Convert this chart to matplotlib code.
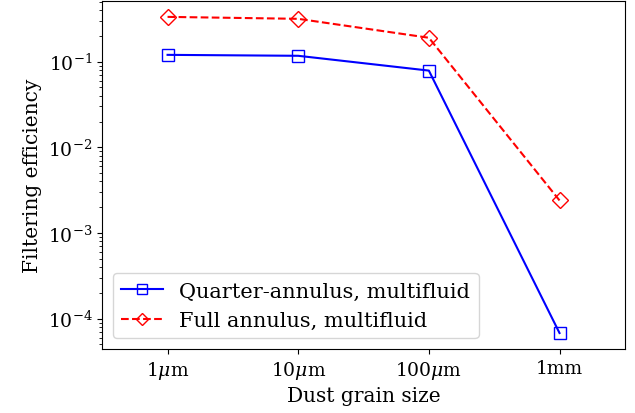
import numpy as np
import matplotlib
matplotlib.use('Agg')
import matplotlib.pyplot as plt

plt.rcParams.update({'font.size': 14.5, 'font.family': 'DejaVu Serif',
                     'mathtext.fontset': 'dejavuserif',
                     'xtick.labelsize': 13.5, 'ytick.labelsize': 13.5,
                     'legend.fontsize': 15})

sizes = [r'1$\mu$m', r'10$\mu$m', r'100$\mu$m', '1mm']
quarter = [0.12, 0.117, 0.0786, 6.8e-5]
full = [0.333, 0.316, 0.19, 0.0024]

x = np.arange(len(sizes))

fig, ax = plt.subplots(figsize=(6.35, 4.14), dpi=100)
ax.plot(x, quarter, 'b-s', mfc='none', ms=9, lw=1.5, label='Quarter-annulus, multifluid')
ax.plot(x, full, 'r--D', mfc='none', ms=8, lw=1.5, label='Full annulus, multifluid')
ax.set_yscale('log')
ax.set_xlim(-0.5, 3.5)
ax.set_xticks(x)
ax.set_xticklabels(sizes)
ax.set_xlabel('Dust grain size')
ax.set_ylabel('Filtering efficiency')
ax.legend(loc='lower left', markerscale=0.75)
plt.subplots_adjust(left=0.161, right=0.984, bottom=0.155, top=0.995)
plt.savefig('out.png')
